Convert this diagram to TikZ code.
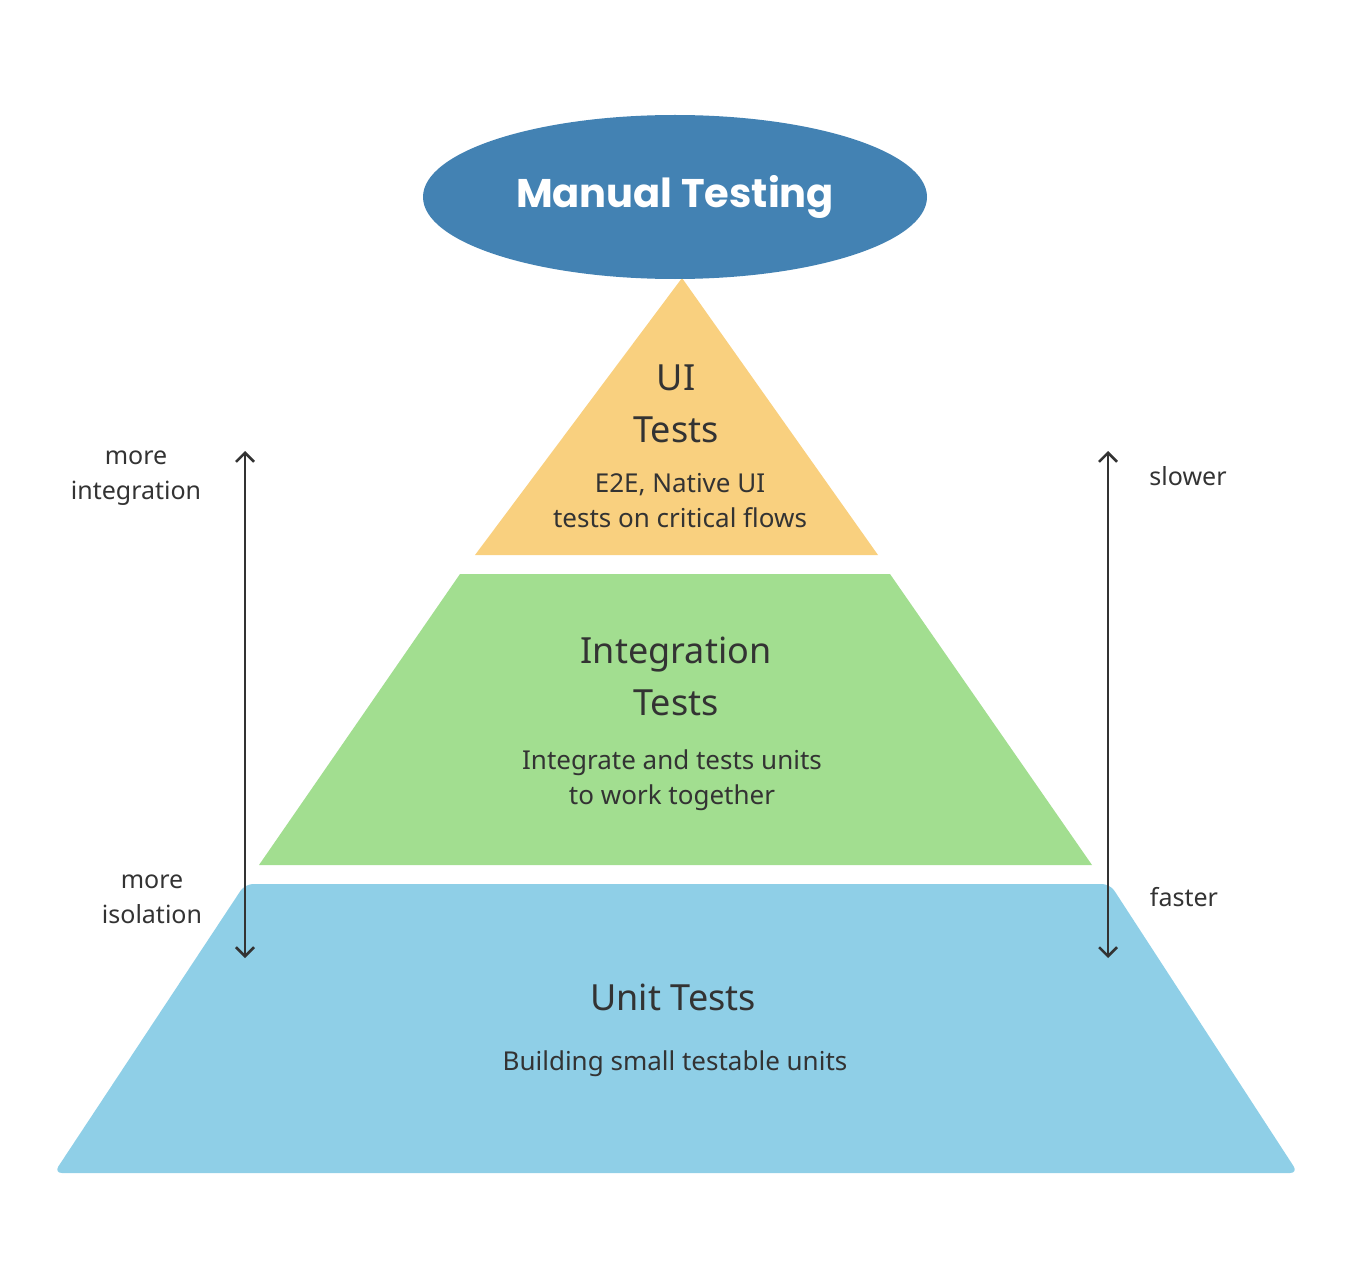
\documentclass[tikz,border=0pt]{standalone}
\usepackage{fontspec}
\setmainfont{Noto Sans}
\newfontfamily\titlefont{Poppins}
\usetikzlibrary{arrows.meta,shapes.geometric}
\definecolor{manualblue}{HTML}{4382B3}
\definecolor{uiorange}{HTML}{F9D07F}
\definecolor{intgreen}{HTML}{A2DE90}
\definecolor{unitblue}{HTML}{8FCFE7}
\definecolor{inkgray}{HTML}{333333}
\tikzset{
  head/.style={text=inkgray, align=center, font=\fontsize{36}{52}\selectfont\bfseries},
  desc/.style={text=inkgray, align=center, font=\fontsize{26}{35}\selectfont},
  side/.style={text=inkgray, align=center, font=\fontsize{25}{35}\selectfont},
  scalearrow/.style={inkgray, line width=2.5pt, {Straight Barb[length=9pt,width=18pt]}-{Straight Barb[length=9pt,width=18pt]}}
}
\begin{document}
\begin{tikzpicture}[x=1pt, y=-1pt]
    \useasboundingbox (0,0) rectangle (1352,1268);

    % pyramid layers
    \fill[unitblue, rounded corners=8pt] (245,884) -- (1110,884) -- (1298,1173) -- (54,1173) -- cycle;
    \fill[intgreen] (460,574) -- (890,574) -- (1092,865) -- (259,865) -- cycle;
    \fill[uiorange] (682,278) -- (878,555) -- (475,555) -- cycle;

    \node[ellipse, fill=manualblue, minimum width=504pt, minimum height=164pt, inner sep=0pt,
          text=white, font=\titlefont\fontsize{40}{48}\selectfont\bfseries] (manual) at (675,197) {Manual Testing};

    \node[head] (uihead) at (676,404) {UI\\Tests};
    \node[desc] (uidesc) at (680,501) {E2E, Native UI\\tests on critical flows};
    \node[head] (inthead) at (676,676) {Integration\\Tests};
    \node[desc] (intdesc) at (672,780) {Integrate and tests units\\to work together};
    \node[head] (unithead) at (673,997) {Unit Tests};
    \node[desc] (unitdesc) at (675,1064) {Building small testable units};

    % scales at the sides
    \coordinate (ltop) at (245,451);
    \coordinate (lbot) at (245,958);
    \coordinate (rtop) at (1108,451);
    \coordinate (rbot) at (1108,958);
    \draw[scalearrow] (ltop) -- (lbot);
    \draw[scalearrow] (rtop) -- (rbot);

    \node[side] (moreint) at (136,478) {more\\integration};
    \node[side] (moreiso) at (152,899) {more\\isolation};
    \node[side] (slower) at (1188,476) {slower};
    \node[side] (faster) at (1184,897) {faster};
\end{tikzpicture}
\end{document}
